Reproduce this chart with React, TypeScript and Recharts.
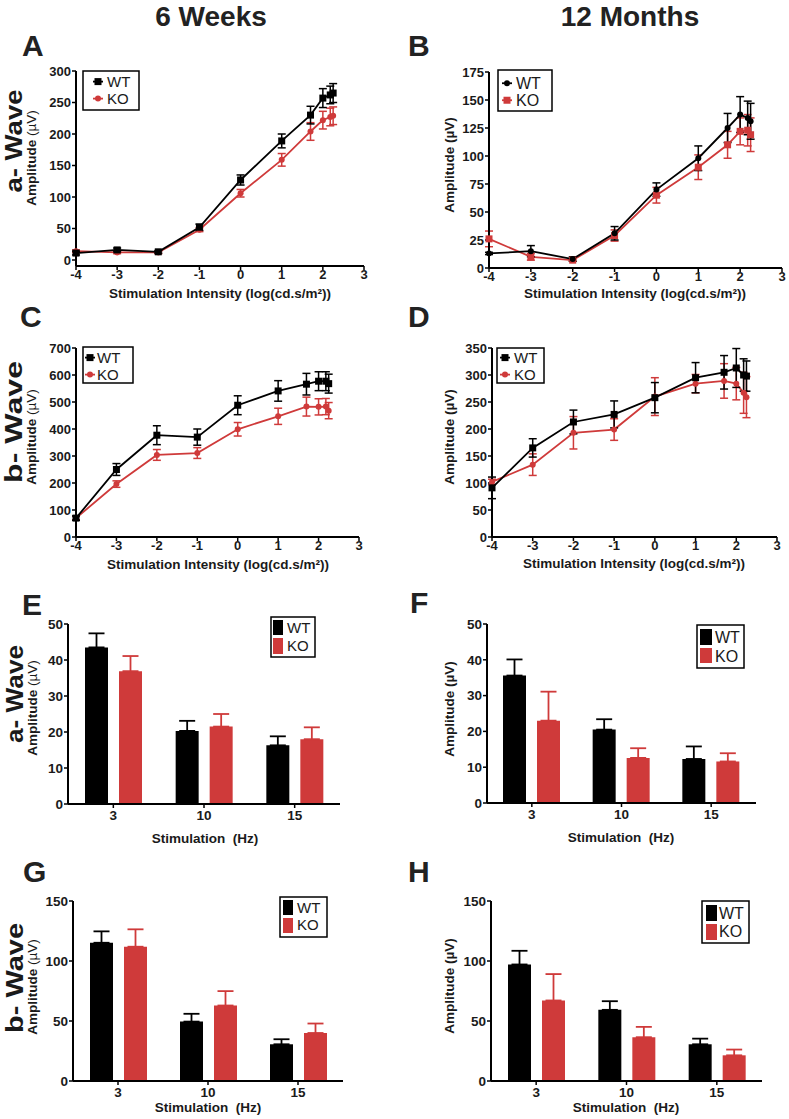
import React from 'react'
import { LineChart, Line, BarChart, Bar, XAxis, YAxis, ErrorBar } from 'recharts'

const FONT = '"Liberation Sans", Arial, Helvetica, sans-serif'
const BLACK = '#000000'
const RED = '#cf3a3a'
const TEXT = '#1a1a1a'

// flash intensities, log(cd.s/m²)
const intensities = [-4, -3, -2, -1, 0, 1, 1.7, 2, 2.18, 2.25]
const intensityTicks = [-4, -3, -2, -1, 0, 1, 2, 3]

// A: a-wave, 6 weeks
const aWave6wWT = [11, 16, 13, 52, 127, 189, 230, 257, 262, 265]
const aWave6wWTErr = [3, 3, 2, 5, 8, 11, 14, 15, 14, 15]
const aWave6wKO = [14, 12, 12, 48, 106, 159, 204, 222, 227, 229]
const aWave6wKOErr = [2, 2, 2, 3, 6, 10, 14, 14, 14, 14]
const aWave6wTicks = [0, 50, 100, 150, 200, 250, 300]

// B: a-wave, 12 months
const aWave12mWT = [13, 15, 8, 31, 70, 98, 125, 137, 134, 131]
const aWave12mWTErr = [1, 5, 2, 6, 6, 11, 13, 16, 15, 16]
const aWave12mKO = [26, 10, 7, 29, 65, 90, 110, 122, 123, 119]
const aWave12mKOErr = [7, 3, 1, 5, 7, 11, 12, 12, 14, 15]
const aWave12mTicks = [0, 25, 50, 75, 100, 125, 150, 175]

// C: b-wave, 6 weeks
const bWave6wWT = [70, 250, 377, 370, 488, 541, 566, 577, 577, 568]
const bWave6wWTErr = [8, 22, 35, 30, 35, 38, 40, 35, 35, 35]
const bWave6wKO = [70, 196, 304, 311, 399, 447, 483, 482, 483, 468]
const bWave6wKOErr = [6, 12, 20, 20, 25, 30, 35, 30, 30, 30]
const bWave6wTicks = [0, 100, 200, 300, 400, 500, 600, 700]

// D: b-wave, 12 months
const bWave12mWT = [91, 165, 213, 227, 258, 295, 305, 313, 300, 298]
const bWave12mWTErr = [20, 17, 22, 25, 28, 28, 31, 36, 30, 28]
const bWave12mKO = [102, 134, 193, 199, 260, 284, 289, 284, 267, 259]
const bWave12mKOErr = [5, 20, 30, 20, 35, 17, 32, 30, 38, 38]
const bWave12mTicks = [0, 50, 100, 150, 200, 250, 300, 350]

// flicker, Hz
const frequencies = ['3', '10', '15']

// E: a-wave flicker, 6 weeks
const flickerA6wWT = [43.5, 20.3, 16.3]
const flickerA6wWTErr = [3.9, 2.8, 2.5]
const flickerA6wKO = [36.9, 21.5, 18]
const flickerA6wKOErr = [4.2, 3.5, 3.3]

// F: a-wave flicker, 12 months
const flickerA12mWT = [35.6, 20.5, 12.3]
const flickerA12mWTErr = [4.5, 2.9, 3.5]
const flickerA12mKO = [23, 12.6, 11.6]
const flickerA12mKOErr = [8.1, 2.7, 2.3]
const flickerATicks = [0, 10, 20, 30, 40, 50]

// G: b-wave flicker, 6 weeks
const flickerB6wWT = [115.2, 49.5, 30.6]
const flickerB6wWTErr = [9.5, 6.5, 4.2]
const flickerB6wKO = [111.9, 62.9, 40]
const flickerB6wKOErr = [14.5, 12, 7.9]

// H: b-wave flicker, 12 months
const flickerB12mWT = [97.1, 59.3, 30.6]
const flickerB12mWTErr = [11.4, 7.2, 4.7]
const flickerB12mKO = [67.1, 36.5, 21.4]
const flickerB12mKOErr = [22, 8.6, 4.8]
const flickerBTicks = [0, 50, 100, 150]

type Box = { x: number; y: number; w: number; h: number }
type Plot = { l: number; r: number; t: number; b: number }

const Y_W = 40

function marginFor(box: Box, plot: Plot, xH: number) {
  return {
    top: plot.t - box.y,
    left: plot.l - box.x - Y_W,
    right: box.x + box.w - plot.r,
    bottom: box.y + box.h - plot.b - xH,
  }
}

function markerShape(kind: 'square' | 'circle', color: string, size: number) {
  return (props: any) => {
    const { cx, cy, index } = props
    if (cx == null || cy == null) return <g key={`m${index}`} />
    return kind === 'square' ? (
      <rect key={`m${index}`} x={cx - size / 2} y={cy - size / 2} width={size} height={size} fill={color} />
    ) : (
      <circle key={`m${index}`} cx={cx} cy={cy} r={size / 2} fill={color} />
    )
  }
}

const axisProps = {
  axisLine: { stroke: BLACK, strokeWidth: 2 },
  tickLine: { stroke: BLACK, strokeWidth: 1.5 },
  tickSize: 4,
}

function LinePanel(props: {
  box: Box
  plot: Plot
  wt: number[]
  wtErr: number[]
  ko: number[]
  koErr: number[]
  yTicks: number[]
  yPad?: number
  wtMarker: 'square' | 'circle'
  koMarker: 'square' | 'circle'
}) {
  const { box, plot, wt, wtErr, ko, koErr, yTicks, yPad = 0, wtMarker, koMarker } = props
  const data = intensities.map((x, i) => ({ x, wt: wt[i], wtErr: wtErr[i], ko: ko[i], koErr: koErr[i] }))
  const yMax = yTicks[yTicks.length - 1]
  return (
    <div style={{ position: 'absolute', left: box.x, top: box.y }}>
      <LineChart width={box.w} height={box.h} data={data} margin={marginFor(box, plot, 20)}>
        <XAxis
          dataKey="x"
          type="number"
          domain={[-4, 3]}
          ticks={intensityTicks}
          height={20}
          tickMargin={0}
          tick={{ fill: TEXT, fontSize: 13, fontWeight: 'bold', fontFamily: FONT }}
          {...axisProps}
        />
        <YAxis
          type="number"
          domain={[0, yMax]}
          ticks={yTicks}
          width={Y_W}
          padding={{ top: 0, bottom: yPad }}
          tickMargin={1}
          tick={{ fill: TEXT, fontSize: 13, fontWeight: 'bold', fontFamily: FONT }}
          {...axisProps}
        />
        <Line
          dataKey="ko"
          stroke={RED}
          strokeWidth={1.8}
          dot={markerShape(koMarker, RED, koMarker === 'square' ? 7 : 6)}
          activeDot={false}
          isAnimationActive={false}
        >
          <ErrorBar dataKey="koErr" direction="y" width={4} stroke={RED} strokeWidth={1.5} />
        </Line>
        <Line
          dataKey="wt"
          stroke={BLACK}
          strokeWidth={1.8}
          dot={markerShape(wtMarker, BLACK, wtMarker === 'square' ? 7 : 6)}
          activeDot={false}
          isAnimationActive={false}
        >
          <ErrorBar dataKey="wtErr" direction="y" width={4} stroke={BLACK} strokeWidth={1.5} />
        </Line>
      </LineChart>
    </div>
  )
}

function BarPanel(props: {
  box: Box
  plot: Plot
  wt: number[]
  wtErr: number[]
  ko: number[]
  koErr: number[]
  yTicks: number[]
}) {
  const { box, plot, wt, wtErr, ko, koErr, yTicks } = props
  const data = frequencies.map((f, i) => ({ f, wt: wt[i], wtErr: [0, wtErr[i]], ko: ko[i], koErr: [0, koErr[i]] }))
  const yMax = yTicks[yTicks.length - 1]
  return (
    <div style={{ position: 'absolute', left: box.x, top: box.y }}>
      <BarChart width={box.w} height={box.h} data={data} margin={marginFor(box, plot, 30)} barSize={23} barGap={11}>
        <XAxis
          dataKey="f"
          height={30}
          tickMargin={2}
          tick={{ fill: TEXT, fontSize: 13.5, fontWeight: 'bold', fontFamily: FONT }}
          {...axisProps}
        />
        <YAxis
          type="number"
          domain={[0, yMax]}
          ticks={yTicks}
          width={Y_W}
          tickMargin={1}
          tick={{ fill: TEXT, fontSize: 13.5, fontWeight: 'bold', fontFamily: FONT }}
          {...axisProps}
        />
        <Bar dataKey="wt" fill={BLACK} isAnimationActive={false}>
          <ErrorBar dataKey="wtErr" direction="y" width={8} stroke={BLACK} strokeWidth={1.8} />
        </Bar>
        <Bar dataKey="ko" fill={RED} isAnimationActive={false}>
          <ErrorBar dataKey="koErr" direction="y" width={8} stroke={RED} strokeWidth={1.8} />
        </Bar>
      </BarChart>
    </div>
  )
}

function LineLegend(p: {
  x: number; y: number; w: number; h: number; mx: number; tx: number; b: number[]; fs: number
  wtMarker: 'square' | 'circle'; koMarker: 'square' | 'circle'
}) {
  const rows = [
    { label: 'WT', color: BLACK, marker: p.wtMarker, base: p.b[0] },
    { label: 'KO', color: RED, marker: p.koMarker, base: p.b[1] },
  ]
  return (
    <g>
      <rect x={p.x} y={p.y} width={p.w} height={p.h} fill="#fff" stroke={BLACK} strokeWidth={1.5} />
      {rows.map(r => {
        const my = r.base - p.fs * 0.36
        return (
          <g key={r.label}>
            <line x1={p.mx - 5} x2={p.mx + 5} y1={my} y2={my} stroke={r.color} strokeWidth={1.8} />
            {r.marker === 'square' ? (
              <rect x={p.mx - 3.5} y={my - 3.5} width={7} height={7} fill={r.color} />
            ) : (
              <circle cx={p.mx} cy={my} r={3} fill={r.color} />
            )}
            <text x={p.tx} y={r.base} fontSize={p.fs} fill={TEXT}>{r.label}</text>
          </g>
        )
      })}
    </g>
  )
}

function BarLegend(p: {
  x: number; y: number; w: number; h: number; sx: number; sw: number; tx: number; fs: number
  rows: { y: number; h: number; b: number }[]
}) {
  const items = [
    { label: 'WT', color: BLACK },
    { label: 'KO', color: RED },
  ]
  return (
    <g>
      <rect x={p.x} y={p.y} width={p.w} height={p.h} fill="#fff" stroke={BLACK} strokeWidth={1.5} />
      {items.map((it, i) => (
        <g key={it.label}>
          <rect x={p.sx} y={p.rows[i].y} width={p.sw} height={p.rows[i].h} fill={it.color} />
          <text x={p.tx} y={p.rows[i].b} fontSize={p.fs} fill={TEXT}>{it.label}</text>
        </g>
      ))}
    </g>
  )
}

function RowLabel({ x, y, len, text }: { x: number; y: number; len: number; text: string }) {
  return (
    <text
      transform={`translate(${x},${y}) rotate(-90)`}
      textAnchor="middle"
      fontSize={24}
      fontWeight="bold"
      fill={TEXT}
      textLength={len}
      lengthAdjust="spacingAndGlyphs"
    >
      {text}
    </text>
  )
}

function AmpLabel({ x, y, light }: { x: number; y: number; light?: boolean }) {
  return (
    <text transform={`translate(${x},${y}) rotate(-90)`} textAnchor="middle" fontSize={13.5} fontWeight="bold" fill={TEXT}>
      Amplitude <tspan fontWeight={light ? 'normal' : 'bold'}>(µV)</tspan>
    </text>
  )
}

function XLabel({ x, y, text, size }: { x: number; y: number; text: string; size: number }) {
  return (
    <text x={x} y={y} textAnchor="middle" fontSize={size} fontWeight="bold" fill={TEXT} style={{ whiteSpace: 'pre' }}>
      {text}
    </text>
  )
}

const intensityTitle = 'Stimulation Intensity (log(cd.s/m²))'
const flickerTitle = 'Stimulation  (Hz)'

export default function App() {
  return (
    <div style={{ position: 'absolute', left: 0, top: 0, width: 789, height: 1119, background: '#fff', fontFamily: FONT }}>
      <LinePanel
        box={{ x: 0, y: 60, w: 394, h: 230 }}
        plot={{ l: 76, r: 364, t: 71, b: 266 }}
        wt={aWave6wWT} wtErr={aWave6wWTErr} ko={aWave6wKO} koErr={aWave6wKOErr}
        yTicks={aWave6wTicks} yPad={6} wtMarker="square" koMarker="circle"
      />
      <LinePanel
        box={{ x: 394, y: 60, w: 395, h: 230 }}
        plot={{ l: 489, r: 782, t: 72, b: 268 }}
        wt={aWave12mWT} wtErr={aWave12mWTErr} ko={aWave12mKO} koErr={aWave12mKOErr}
        yTicks={aWave12mTicks} wtMarker="circle" koMarker="square"
      />
      <LinePanel
        box={{ x: 0, y: 335, w: 394, h: 225 }}
        plot={{ l: 76, r: 359, t: 348, b: 537 }}
        wt={bWave6wWT} wtErr={bWave6wWTErr} ko={bWave6wKO} koErr={bWave6wKOErr}
        yTicks={bWave6wTicks} wtMarker="square" koMarker="circle"
      />
      <LinePanel
        box={{ x: 394, y: 335, w: 395, h: 225 }}
        plot={{ l: 492, r: 777, t: 348, b: 537 }}
        wt={bWave12mWT} wtErr={bWave12mWTErr} ko={bWave12mKO} koErr={bWave12mKOErr}
        yTicks={bWave12mTicks} wtMarker="square" koMarker="circle"
      />
      <BarPanel
        box={{ x: 0, y: 612, w: 394, h: 222 }}
        plot={{ l: 68, r: 340, t: 624, b: 804 }}
        wt={flickerA6wWT} wtErr={flickerA6wWTErr} ko={flickerA6wKO} koErr={flickerA6wKOErr}
        yTicks={flickerATicks}
      />
      <BarPanel
        box={{ x: 394, y: 612, w: 395, h: 222 }}
        plot={{ l: 487, r: 756, t: 624, b: 803 }}
        wt={flickerA12mWT} wtErr={flickerA12mWTErr} ko={flickerA12mKO} koErr={flickerA12mKOErr}
        yTicks={flickerATicks}
      />
      <BarPanel
        box={{ x: 0, y: 890, w: 394, h: 222 }}
        plot={{ l: 73, r: 343, t: 901, b: 1081 }}
        wt={flickerB6wWT} wtErr={flickerB6wWTErr} ko={flickerB6wKO} koErr={flickerB6wKOErr}
        yTicks={flickerBTicks}
      />
      <BarPanel
        box={{ x: 394, y: 890, w: 395, h: 222 }}
        plot={{ l: 491, r: 762, t: 901, b: 1081 }}
        wt={flickerB12mWT} wtErr={flickerB12mWTErr} ko={flickerB12mKO} koErr={flickerB12mKOErr}
        yTicks={flickerBTicks}
      />

      <svg
        width={789}
        height={1119}
        style={{ position: 'absolute', left: 0, top: 0, pointerEvents: 'none' }}
        fontFamily={FONT}
      >
        <text x={211} y={26} textAnchor="middle" fontSize={28} fontWeight="bold" fill="#222">6 Weeks</text>
        <text x={630} y={26} textAnchor="middle" fontSize={28} fontWeight="bold" fill="#222">12 Months</text>

        <g fontSize={30} fontWeight="bold" fill="#222">
          <text x={22} y={56}>A</text>
          <text x={408} y={56}>B</text>
          <text x={20} y={327}>C</text>
          <text x={408} y={327}>D</text>
          <text x={22} y={615}>E</text>
          <text x={410} y={613}>F</text>
          <text x={23} y={882}>G</text>
          <text x={408} y={882}>H</text>
        </g>

        <RowLabel x={22} y={141} len={103} text="a- Wave" />
        <RowLabel x={22} y={422} len={122} text="b- Wave" />
        <RowLabel x={23} y={694} len={98} text="a- Wave" />
        <RowLabel x={23} y={978} len={110} text="b- Wave" />

        <AmpLabel x={36} y={158} light />
        <AmpLabel x={454} y={165} />
        <AmpLabel x={36} y={437} light />
        <AmpLabel x={454} y={437} />
        <AmpLabel x={37} y={708} light />
        <AmpLabel x={454} y={709} />
        <AmpLabel x={37} y={987} light />
        <AmpLabel x={454} y={986} />

        <XLabel x={220} y={298} text={intensityTitle} size={13.5} />
        <XLabel x={635} y={298} text={intensityTitle} size={13.5} />
        <XLabel x={218} y={569} text={intensityTitle} size={13.5} />
        <XLabel x={634} y={568} text={intensityTitle} size={13.5} />
        <XLabel x={205} y={843} text={flickerTitle} size={13.5} />
        <XLabel x={621} y={842} text={flickerTitle} size={13.5} />
        <XLabel x={208} y={1112} text={flickerTitle} size={13.5} />
        <XLabel x={626} y={1112} text={flickerTitle} size={13.5} />

        <LineLegend x={83} y={71} w={56} h={39} mx={98} tx={107} b={[87, 104]} fs={15} wtMarker="square" koMarker="circle" />
        <LineLegend x={498} y={70} w={54} h={41} mx={507} tx={516} b={[89, 106]} fs={16} wtMarker="circle" koMarker="square" />
        <LineLegend x={83} y={347} w={50} h={36} mx={90} tx={97} b={[363, 380]} fs={15} wtMarker="square" koMarker="circle" />
        <LineLegend x={497} y={348} w={47} h={35} mx={505} tx={514} b={[363, 380]} fs={15} wtMarker="square" koMarker="circle" />

        <BarLegend x={271} y={617} w={44} h={40} sx={273} sw={10} tx={287} fs={15}
          rows={[{ y: 620, h: 15, b: 633 }, { y: 638, h: 16, b: 651 }]} />
        <BarLegend x={697} y={625} w={47} h={43} sx={700} sw={12} tx={715} fs={16}
          rows={[{ y: 629, h: 16, b: 643 }, { y: 648, h: 15, b: 662 }]} />
        <BarLegend x={280} y={897} w={47} h={40} sx={283} sw={10} tx={297} fs={15}
          rows={[{ y: 900, h: 15, b: 913 }, { y: 918, h: 15, b: 930 }]} />
        <BarLegend x={702} y={901} w={47} h={42} sx={706} sw={11} tx={719} fs={16}
          rows={[{ y: 905, h: 16, b: 919 }, { y: 924, h: 16, b: 937 }]} />
      </svg>
    </div>
  )
}
